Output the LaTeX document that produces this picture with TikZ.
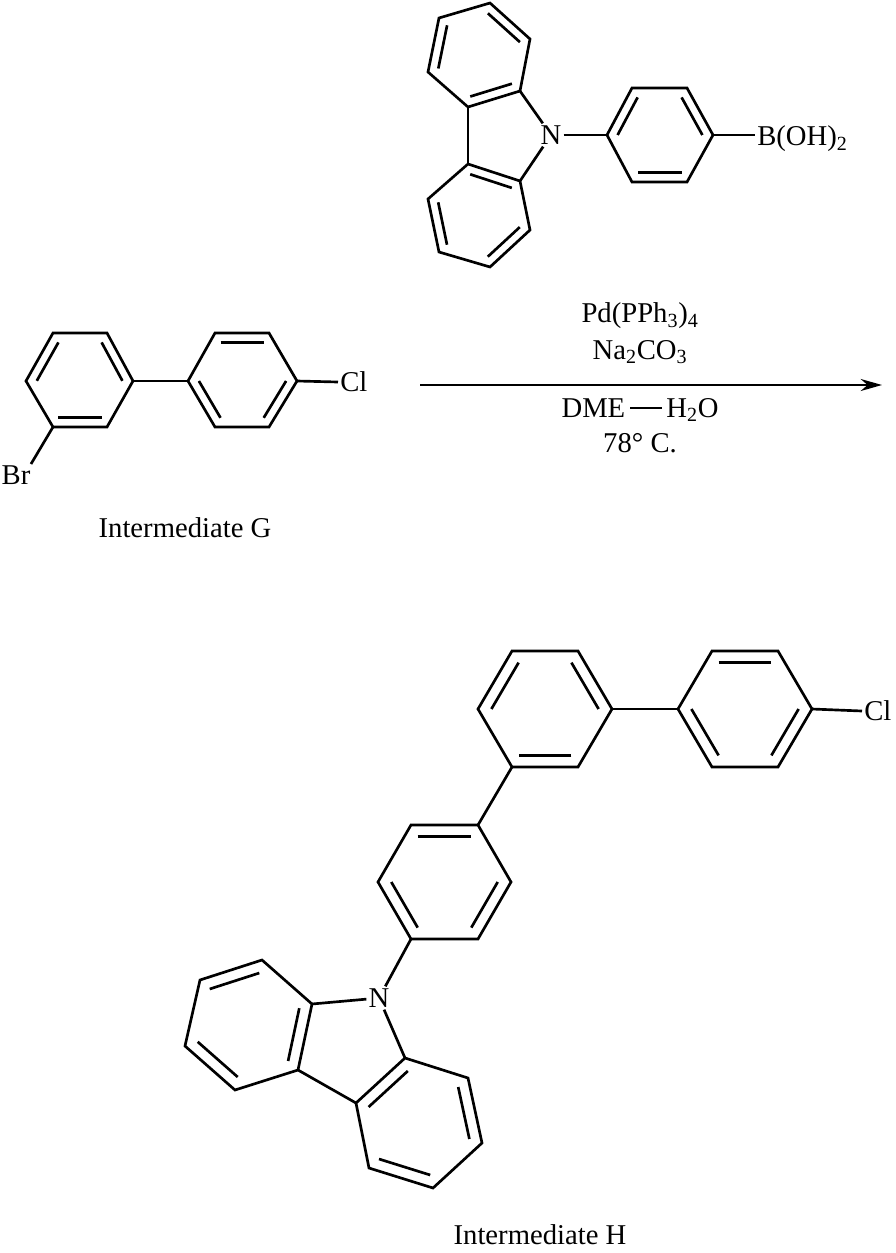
\documentclass[tikz,border=0pt]{standalone}
\usepackage{fontspec}
\setmainfont{Liberation Serif}
\usetikzlibrary{calc,arrows.meta}
\begin{document}
\begin{tikzpicture}[x=0.75pt,y=-0.75pt,line join=miter,
  bond/.style={line width=2pt},
  lbl/.style={font=\fontsize{21.5}{26}\selectfont,inner sep=1.5pt}]
\useasboundingbox (0,0) rectangle (896,1253);
\newcommand{\ring}[7]{\draw[bond] (#1)--(#2)--(#3)--(#4)--(#5)--(#6)--cycle; \coordinate (#7) at ($(#1)!0.5!(#4)$);}
\newcommand{\dbl}[3]{\draw[bond] ($(#1)!0.2!(#3)$)--($(#2)!0.2!(#3)$);}
\newcommand{\sbs}[1]{\textsubscript{#1}}
% ---- top boronic acid
\coordinate (a1) at (439,18);\coordinate (a2) at (490,3);\coordinate (a3) at (530,39);
\coordinate (a4) at (520,91);\coordinate (a5) at (468,107);\coordinate (a6) at (428,72);
\coordinate (b1) at (468,164);\coordinate (b2) at (520,181);\coordinate (b3) at (530,230);
\coordinate (b4) at (490,267);\coordinate (b5) at (439,252);\coordinate (b6) at (428,199);
\ring{a1}{a2}{a3}{a4}{a5}{a6}{ac}
\ring{b1}{b2}{b3}{b4}{b5}{b6}{bc}
\dbl{a2}{a3}{ac}\dbl{a6}{a1}{ac}\dbl{a4}{a5}{ac}
\dbl{b1}{b2}{bc}\dbl{b3}{b4}{bc}\dbl{b5}{b6}{bc}
\draw[bond] (a5)--(b1);
\node[lbl] (N1) at (551,135) {N};
\draw[bond] (a4)--(N1);\draw[bond] (b2)--(N1);
\coordinate (p1) at (607,135);\coordinate (p2) at (632,88);\coordinate (p3) at (687,88);
\coordinate (p4) at (713,135);\coordinate (p5) at (687,182);\coordinate (p6) at (632,182);
\ring{p1}{p2}{p3}{p4}{p5}{p6}{pc}
\dbl{p1}{p2}{pc}\dbl{p3}{p4}{pc}\dbl{p5}{p6}{pc}
\draw[bond] (N1)--(p1);
\node[lbl,anchor=west] (B) at (755,139) {B(OH)\sbs{2}};
\draw[bond] (p4)--(755,135);
% ---- intermediate G
\coordinate (g1) at (53,333);\coordinate (g2) at (107,333);\coordinate (g3) at (133,381);
\coordinate (g4) at (107,427);\coordinate (g5) at (53,427);\coordinate (g6) at (26,381);
\ring{g1}{g2}{g3}{g4}{g5}{g6}{gc}
\dbl{g6}{g1}{gc}\dbl{g2}{g3}{gc}\dbl{g4}{g5}{gc}
\coordinate (h1) at (188,381);\coordinate (h2) at (215,333);\coordinate (h3) at (269,333);
\coordinate (h4) at (297,381);\coordinate (h5) at (269,427);\coordinate (h6) at (215,427);
\ring{h1}{h2}{h3}{h4}{h5}{h6}{hc}
\dbl{h2}{h3}{hc}\dbl{h4}{h5}{hc}\dbl{h6}{h1}{hc}
\draw[bond] (g3)--(h1);
\node[lbl,anchor=west] (ClG) at (338,382) {Cl};
\draw[bond] (h4)--(ClG.west);
\node[lbl] (Br) at (16,475) {Br};
\draw[bond] (g5)--(31,464);
\node[lbl] (capG) at (185,528) {Intermediate G};
% ---- arrow
\coordinate (ar1) at (420,385);\coordinate (ar2) at (882,385);
\draw[line width=1.6pt,-{Stealth[length=16pt,width=9pt]}] (ar1)--(ar2);
\node[lbl] (c1) at (640,316) {Pd(PPh\sbs{3})\sbs{4}};
\node[lbl] (c2) at (640,352) {Na\sbs{2}CO\sbs{3}};
\node[lbl] (c3) at (640,410) {DME\,\rule[0.3em]{1.1em}{1.4pt}\,H\sbs{2}O};
\node[lbl] (c4) at (640,443) {78° C.};
% ---- intermediate H
\coordinate (m1) at (512,651);\coordinate (m2) at (578,651);\coordinate (m3) at (612,709);
\coordinate (m4) at (578,767);\coordinate (m5) at (512,767);\coordinate (m6) at (478,709);
\ring{m1}{m2}{m3}{m4}{m5}{m6}{mc}
\dbl{m6}{m1}{mc}\dbl{m2}{m3}{mc}\dbl{m4}{m5}{mc}
\coordinate (k1) at (678,709);\coordinate (k2) at (712,651);\coordinate (k3) at (778,651);
\coordinate (k4) at (812,709);\coordinate (k5) at (778,767);\coordinate (k6) at (712,767);
\ring{k1}{k2}{k3}{k4}{k5}{k6}{kc}
\dbl{k2}{k3}{kc}\dbl{k4}{k5}{kc}\dbl{k6}{k1}{kc}
\draw[bond] (m3)--(k1);
\node[lbl,anchor=west] (ClH) at (862,711) {Cl};
\draw[bond] (k4)--(ClH.west);
\coordinate (q1) at (411,825);\coordinate (q2) at (478,825);\coordinate (q3) at (511,882);
\coordinate (q4) at (478,939);\coordinate (q5) at (411,939);\coordinate (q6) at (378,882);
\ring{q1}{q2}{q3}{q4}{q5}{q6}{qc}
\dbl{q1}{q2}{qc}\dbl{q3}{q4}{qc}\dbl{q5}{q6}{qc}
\draw[bond] (m5)--(q2);
\node[lbl] (N2) at (379,998) {N};
\draw[bond] (q5)--(N2);
\coordinate (l1) at (312,1004);\coordinate (l2) at (262,960);\coordinate (l3) at (200,980);
\coordinate (l4) at (185,1046);\coordinate (l5) at (235,1090);\coordinate (l6) at (298,1070);
\ring{l1}{l2}{l3}{l4}{l5}{l6}{lc}
\dbl{l2}{l3}{lc}\dbl{l4}{l5}{lc}\dbl{l6}{l1}{lc}
\coordinate (r1) at (405,1058);\coordinate (r2) at (468,1078);\coordinate (r3) at (482,1143);
\coordinate (r4) at (433,1188);\coordinate (r5) at (369,1168);\coordinate (r6) at (356,1103);
\ring{r1}{r2}{r3}{r4}{r5}{r6}{rc}
\dbl{r2}{r3}{rc}\dbl{r4}{r5}{rc}\dbl{r6}{r1}{rc}
\draw[bond] (l6)--(r6);
\draw[bond] (N2)--(l1);\draw[bond] (N2)--(r1);
\node[lbl] (capH) at (540,1235) {Intermediate H};
\end{tikzpicture}
\end{document}
